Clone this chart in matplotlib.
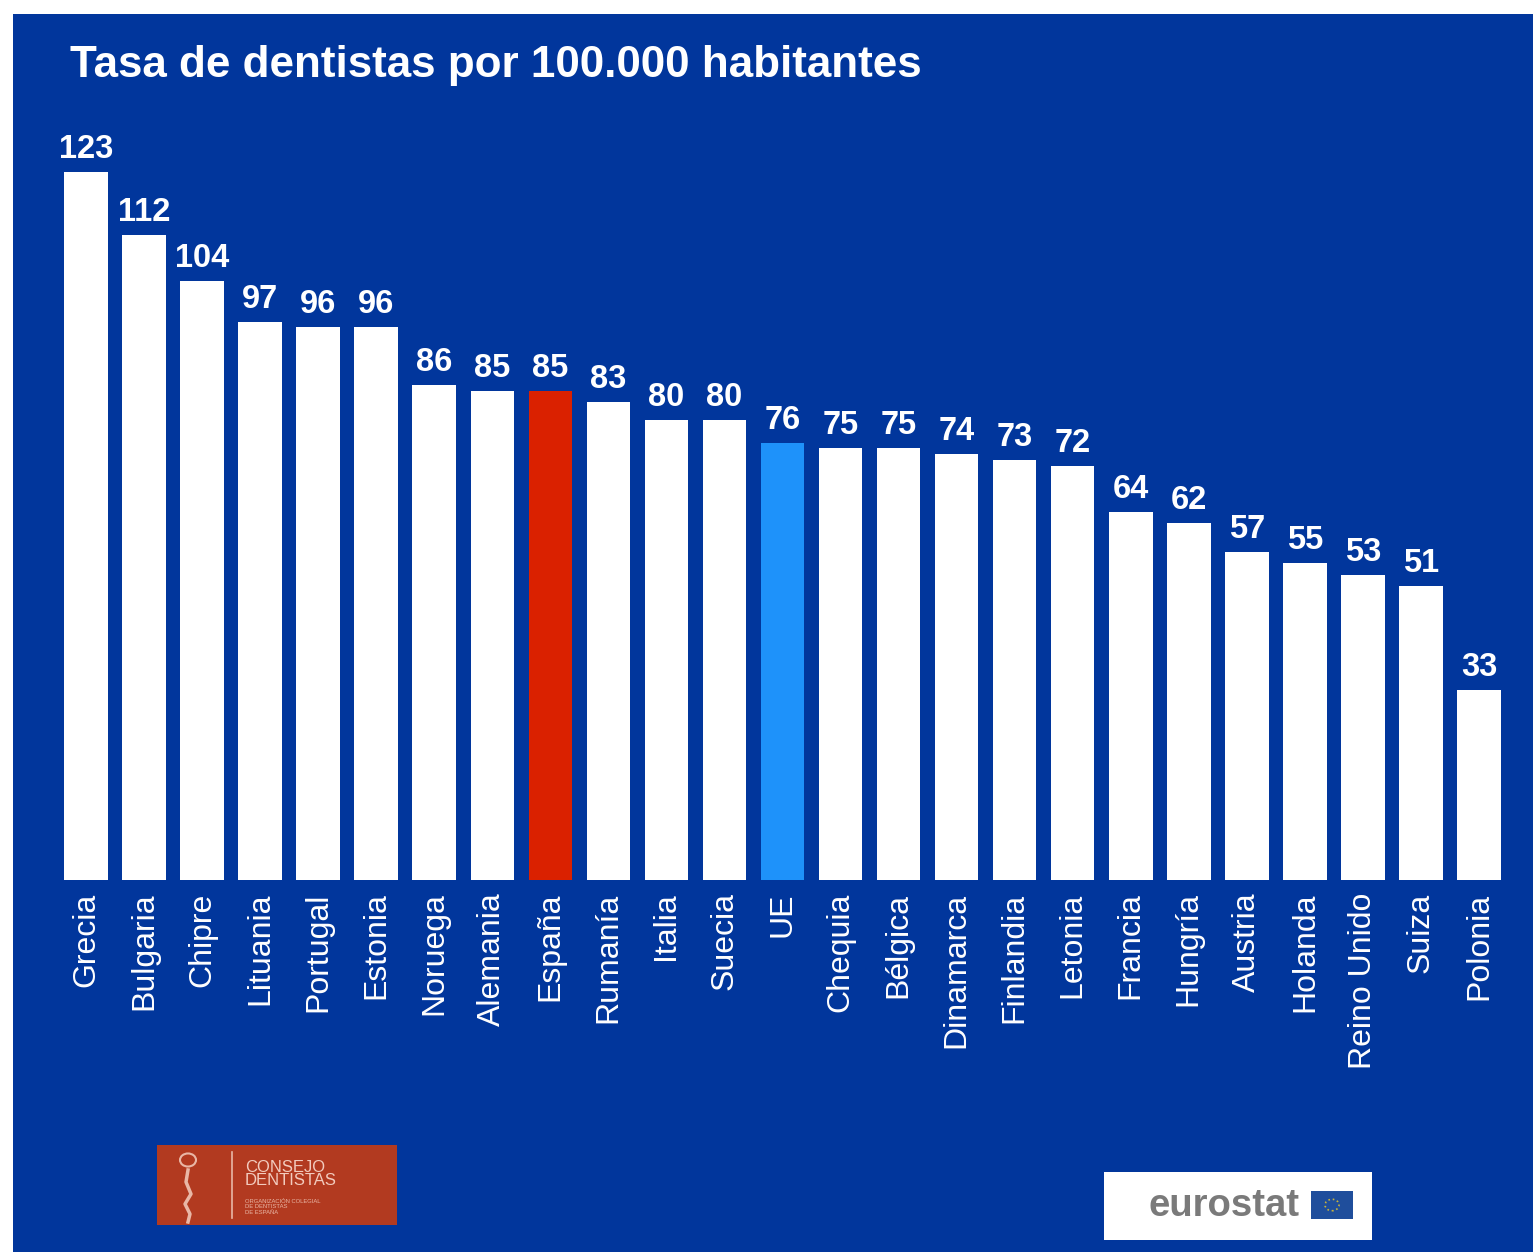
import matplotlib.pyplot as plt
from matplotlib.patches import Rectangle, Circle

plt.rcParams["font.family"] = ["Liberation Sans", "DejaVu Sans"]

countries = ["Grecia", "Bulgaria", "Chipre", "Lituania", "Portugal", "Estonia",
             "Noruega", "Alemania", "España", "Rumanía", "Italia", "Suecia", "UE",
             "Chequia", "Bélgica", "Dinamarca", "Finlandia", "Letonia", "Francia",
             "Hungría", "Austria", "Holanda", "Reino Unido", "Suiza", "Polonia"]
values = [123, 112, 104, 97, 96, 96, 86, 85, 85, 83, 80, 80, 76,
          75, 75, 74, 73, 72, 64, 62, 57, 55, 53, 51, 33]
highlight = {"España": "#DA2100", "UE": "#1E92FA"}

BG = "#01369C"
W, H = 1533, 1252

fig = plt.figure(figsize=(W / 100, H / 100), dpi=100, facecolor="white")
fig.patches.append(Rectangle((13 / W, 0), 1 - 13 / W, 1 - 14 / H,
                             transform=fig.transFigure, facecolor=BG,
                             edgecolor="none", zorder=-10))

n = len(countries)
step = (1479 - 86) / (n - 1)
left = 86 - 0.5 * step
right = 1479 + 0.5 * step
ymax = 130
ppu = (880 - 172) / 123
top = 880 - ymax * ppu
ax = fig.add_axes([left / W, 1 - 880 / H, (right - left) / W, (880 - top) / H])
ax.set_facecolor("none")

colors = [highlight.get(c, "white") for c in countries]
bars = ax.bar(range(n), values, width=0.75, color=colors, edgecolor="none")
for b, v in zip(bars, values):
    ax.annotate(str(v), (b.get_x() + b.get_width() / 2, v), xytext=(0, 5),
                textcoords="offset points", ha="center", va="bottom",
                color="white", fontsize=23.5, fontweight="bold")

ax.set_xlim(-0.5, n - 0.5)
ax.set_ylim(0, ymax)
ax.set_xticks(range(n))
ax.set_xticklabels(countries, rotation=90, color="white", fontsize=23)
ax.tick_params(axis="x", length=0, pad=9)
ax.set_yticks([])
for s in ax.spines.values():
    s.set_visible(False)

fig.text(70 / W, 1 - 65 / H, "Tasa de dentistas por 100.000 habitantes",
         color="white", fontsize=31.7, fontweight="bold", va="center", ha="left")

# Consejo Dentistas logo
fig.patches.append(Rectangle((157 / W, 1 - 1225 / H), 240 / W, 80 / H,
                             transform=fig.transFigure, facecolor="#B23A20",
                             edgecolor="none"))
fig.add_artist(plt.Line2D([232 / W, 232 / W], [1 - 1218 / H, 1 - 1152 / H],
                          transform=fig.transFigure, color="#E9B7A6", lw=1.2))
fig.patches.append(Circle((188 / W, 1 - 1160 / H), 8 / W, transform=fig.transFigure,
                          facecolor="none", edgecolor="#E9B7A6", lw=1.5))
fig.add_artist(plt.Line2D([188 / W, 186 / W, 191 / W, 185 / W, 190 / W, 188 / W],
                          [1 - 1170 / H, 1 - 1182 / H, 1 - 1194 / H,
                           1 - 1204 / H, 1 - 1214 / H, 1 - 1222 / H],
                          transform=fig.transFigure, color="#E9B7A6", lw=2.5))
fig.text(245 / W, 1 - 1174 / H, "CONSEJO\nDENTISTAS", color="#F2CBBE",
         fontsize=12, va="center", ha="left", linespacing=0.85)
fig.text(245 / W, 1 - 1207 / H, "ORGANIZACIÓN COLEGIAL\nDE DENTISTAS\nDE ESPAÑA",
         color="#E9B7A6", fontsize=4.2, va="center", ha="left", linespacing=1.1)

# Eurostat logo
fig.patches.append(Rectangle((1104 / W, 1 - 1240 / H), 268 / W, 68 / H,
                             transform=fig.transFigure, facecolor="white",
                             edgecolor="none"))
fig.text(1149 / W, 1 - 1206 / H, "eurostat", color="#7A7A7A", fontsize=27.5,
         fontweight="bold", va="center", ha="left")
fig.patches.append(Rectangle((1311 / W, 1 - 1219 / H), 42 / W, 28 / H,
                             transform=fig.transFigure, facecolor="#1F4E9C",
                             edgecolor="none"))
fig.patches.append(Circle((1332 / W, 1 - 1205 / H), 7 / W, transform=fig.transFigure,
                          facecolor="none", edgecolor="#C8B43C", lw=1.2, ls=":"))

fig.savefig("out.png", dpi=100, facecolor=fig.get_facecolor())
